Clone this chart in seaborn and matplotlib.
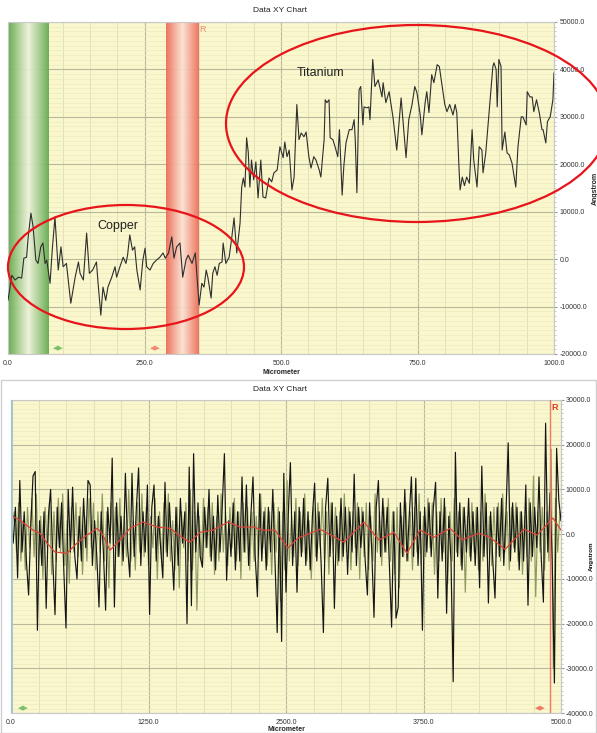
import numpy as np
import pandas as pd
import matplotlib
matplotlib.use("Agg")
import matplotlib.pyplot as plt
import seaborn as sns
from matplotlib.patches import Ellipse, Rectangle
from matplotlib.colors import LinearSegmentedColormap
from matplotlib.ticker import MultipleLocator, FuncFormatter

sns.set_style("white")
plt.rcParams['font.family'] = ['Liberation Sans', 'DejaVu Sans']

# ---------------- data ----------------
# top chart: surface profile (Micrometer vs Angstrom)
top_x = [0, 7, 13, 19, 25, 29, 34, 37, 42, 46, 51, 55, 60, 64, 68, 71, 77, 81, 86, 92,
         97, 101, 107, 115, 123, 129, 132, 138, 144, 149, 155, 162, 165, 170, 174, 179, 183, 190, 196, 199,
         205, 211, 216, 219, 223, 228, 232, 236, 242, 247, 251, 254, 260, 266, 272, 278, 284, 288, 294, 300,
         304, 309, 315, 320, 326, 330, 337, 343, 350, 355, 359, 363, 366, 372, 375, 379, 383, 387, 392, 394,
         399, 405, 410, 414, 419, 425, 428, 431, 434, 437, 440, 443, 446, 450, 454, 458, 463, 467, 472, 478,
         483, 487, 493, 498, 504, 507, 511, 515, 520, 524, 529, 533, 537, 542, 546, 551, 555, 560, 564, 570,
         573, 579, 581, 584, 588, 590, 595, 599, 604, 607, 612, 615, 619, 625, 630, 634, 636, 639, 643, 646,
         650, 652, 657, 661, 663, 668, 672, 678, 685, 687, 692, 698, 705, 712, 720, 729, 734, 740, 745, 749,
         755, 758, 764, 767, 771, 776, 780, 786, 790, 797, 800, 804, 809, 815, 819, 822, 826, 828, 832, 836,
         840, 845, 850, 853, 859, 863, 868, 870, 875, 879, 885, 888, 890, 894, 896, 899, 903, 905, 910, 914,
         918, 923, 927, 930, 934, 940, 943, 949, 951, 956, 960, 963, 968, 973, 978, 980, 985, 988, 993, 998,
         1000]
top_y = [-8700, -3400, -4400, -3800, -4000, 200, 400, 4700, 9700, 6800, -200, -900, 2600, 3400, -900, -200, -5100, 1900, 8900, -2300,
         2600, -1600, -900, -9300, -3800, -600, -3000, -4400, 5500, -3000, -2300, -600, -5100, -11800, -5900, -8700, -5900, -3800, -1600, -3800,
         -1600, 400, -900, 850, 5100, 1900, 2600, -2300, -6500, -200, 2300, -1600, -2300, -900, -200, 400, 1300, 200, 1300, 4700,
         200, 2600, 3400, -3800, -200, 850, -900, 1300, -9700, -5100, -5900, -2300, -3800, -8200, -3000, -1600, -3400, -900, -600, 3400,
         -900, 400, 4700, 8700, 1300, 7600, 15200, 17100, 15200, 25600, 22600, 15200, 20900, 16700, 20500, 12900, 20900, 13100, 12900, 17100,
         16300, 18200, 18800, 23700, 21400, 24700, 21600, 23000, 14600, 17300, 32600, 25200, 26600, 25800, 26800, 21600, 19200, 21600, 20900, 18800,
         17300, 25200, 33600, 33000, 33600, 25600, 25200, 23700, 21600, 27300, 13500, 19500, 24500, 27300, 27300, 29400, 25200, 14000, 35700, 36400,
         28300, 32100, 31900, 32100, 29400, 42100, 36400, 37800, 34200, 37200, 33000, 35300, 30000, 23000, 34000, 21400, 29400, 32600, 36400, 35100,
         30400, 26200, 33000, 35300, 30900, 38900, 37200, 41000, 40600, 35100, 32600, 31100, 32600, 30400, 32600, 30900, 19200, 14600, 17300, 15500,
         17300, 16000, 27300, 20900, 15200, 23700, 23000, 18200, 22400, 27900, 36400, 40600, 41400, 40000, 32100, 42100, 40600, 23000, 26800, 22400,
         22000, 20300, 17300, 15200, 23700, 30000, 30000, 28300, 35300, 34200, 34200, 31100, 33600, 30900, 27300, 27300, 24500, 29000, 30000, 33600,
         39300]

# bottom chart: two noisy profiles (thousands of Angstrom), sampled every 20 um
bot_step = 20
bot_black_k = [
    3, -2, 6, -9.8, 12, -4, 5, -6, -13.6, 2,
    13, 14, -21.5, 3, -7, 5, -16.6, 4, 10, -6,
    -18, 6, -3, 7, -8, -21, 10, -4, 10.5, -5,
    -10, 4, -6, 8, -3, 12, 11, -7, 3, -5,
    -16.3, 5, -4, -17, 6, -2, 17, -16.3, 7, -5,
    4, -6, 13.6, -3, -9.6, 13.6, -5, 6, 14.8, -7,
    5, -4, 11, -18, 6, 11, -6, 4, -3, -9.8,
    11.6, -5, 7, -3, -12.5, 6, -7, 8, -2, 5,
    -20, 15, -16, 18, -4, 7, -5, -7.4, 6, -3,
    10, -6, 4, -8, 8.7, -4, 6, 18, -10.3, 3,
    -5, 7, -8, 5, -6, 12.8, -4, 11, -7, 4,
    12.8, -5, -14, 9, -6, 5, -8, 6, -4, 10,
    -6, -22, 5, -24, 13.6, -13, 4, 16, -7, 5,
    -13, 6, -5, 8, -7, 5, -8, 4, 11.4, -6,
    5, -7, -22, 6, 12.5, -5, 7, -16.6, 4, -6,
    8, -5, 6, -9, 5, -4, 13.4, -7, 6, -3,
    5, -6, -13.6, 7, -4, -18.6, 6, 12, -5, 8,
    -4, 6, -7, -20.8, 5, -18.8, -16.3, 7, -5, 10,
    -6, 4, 12.8, -5, 12.5, -7, 5, -21.5, 6, -4,
    7, -5, 6, 11.6, -14.3, 5, -6, 8, -17.7, 4,
    -6, -33, 18.3, -5, 7, -8, 6, -4, 8, -6,
    5, -7, 6, -12, 15.2, -5, 7, -15.4, 5, -6,
    -14.3, 6, -5, 8, -7, 5, 20.4, -6, 7, -4,
    6, -8, 5, -6, 11, -15.9, 7, -5, 6, -3,
    12.8, -5, -15.2, 24.8, -4, 9.2, -6, -33.3, 19.2, 7.6,
    3]
bot_olive_k = [
    2, 5, -4, 7, -6, 3, -8, 6, -3, 8,
    -5, 9, -7, 4, -10, 6, -3, 7, -9, 5,
    -6, 8, -4, 9, -7, 3, -11, 6, -4, 7,
    -5, 6, -9, 4, -6, 8, -3, 7, -8, 5,
    -4, 9, -6, 5, -12, 7, -3, 6, -5, 8,
    -7, 4, -5, 10, -6, 3, -8, 7, -4, 9,
    -5, 6, -7, 4, -3, 8, -10, 5, -6, 7,
    -4, 9, -6, 3, -8, 6, -12, 5, -3, 7,
    -6, 10, -8, 5, -17, 4, -6, 8, -3, 6,
    -5, 7, -9, 4, -6, 9, -4, 5, -7, 6,
    -3, 8, -6, 5, -10, 7, -4, 6, -8, 5,
    -6, 4, -5, 9, -3, 6, -7, 5, -9, 7,
    -4, 6, -15, 5, -8, 12, -6, 4, -5, 8,
    -7, 5, -4, 9, -6, 3, -10, 6, -5, 7,
    -3, 8, -6, 5, -9, 7, -4, 6, -7, 5,
    -6, 9, -4, 6, -8, 5, -3, 7, -10, 6,
    -5, 7, -8, 4, -6, 9, -4, 5, -7, 6,
    -4, 8, -6, 5, -9, 6, -12, 4, -5, 7,
    -6, 5, -8, 6, -4, 9, -7, 4, -5, 8,
    -3, 7, -9, 5, -6, 8, -4, 6, -11, 5,
    -6, 8, -4, 5, -7, 6, -13, 4, -5, 7,
    -4, 6, -8, 5, -6, 9, -5, 4, -7, 6,
    -5, 7, -6, 9, -4, 5, -8, 6, -3, 7,
    -6, 5, -9, 4, -5, 8, -6, 13, -14, 5,
    -4, 6, -8, 5, -6, 19, -30, 8, -4, 5,
    2]
# bottom chart: smoothed (moving average) curve
ma_x = [0, 82, 200, 264, 327, 400, 509, 600, 691, 782, 827, 900, 991, 1082, 1200, 1327, 1445, 1555,
        1627, 1718, 1836, 1973, 2082, 2200, 2291, 2400, 2518, 2609, 2809, 3027, 3209, 3345, 3482,
        3600, 3718, 3845, 3991, 4100, 4255, 4355, 4491, 4664, 4782, 4927, 5000]
ma_y = [4200, 3100, 900, 200, -2000, -4000, -4300, -2000, -200, 1300, 200, -3600, -1300, 1300, 2700, 1600,
        1300, -700, -1800, 400, 900, 2700, 1600, 1600, 900, 900, -3100, -900, 1100, -1800, 2700, -1300,
        400, -4300, 900, -700, 1300, -1300, 200, -700, -3400, 1100, -200, 3600, 900]

# region markers
green_band = (0, 74)
red_band = (289, 348)
bottom_cursor = 4900

# ---------------- figure ----------------
W, H = 597, 733
fig = plt.figure(figsize=(W / 100, H / 100), dpi=100)
fig.patch.set_facecolor('white')

ax1 = fig.add_axes([8 / W, 1 - 354 / H, 546 / W, 332 / H])
ax2 = fig.add_axes([11 / W, 1 - 713 / H, 550 / W, 313 / H])

fmt = FuncFormatter(lambda v, p: f"{v:.1f}")


def style(ax, xmax, ymin, ymax, xmajor, xminor):
    ax.set_facecolor('#F9F7CB')
    ax.set_xlim(0, xmax)
    ax.set_ylim(ymin, ymax)
    ax.xaxis.set_major_locator(MultipleLocator(xmajor))
    ax.xaxis.set_minor_locator(MultipleLocator(xminor))
    ax.yaxis.set_major_locator(MultipleLocator(10000))
    ax.yaxis.set_minor_locator(MultipleLocator(1000))
    ax.grid(which='major', color='#B9B89C', lw=0.8)
    ax.grid(which='minor', axis='x', color='#DEDCB2', lw=0.6)
    ax.grid(which='minor', axis='y', color='#EDEBC2', lw=0.5)
    ax.set_axisbelow(True)
    ax.yaxis.tick_right()
    ax.yaxis.set_label_position('right')
    ax.xaxis.set_major_formatter(fmt)
    ax.yaxis.set_major_formatter(fmt)
    ax.tick_params(which='major', labelsize=5, length=2, color='#999999', pad=2, labelcolor='#333333')
    ax.tick_params(which='minor', length=1.3, color='#BBBBBB')
    for s in ax.spines.values():
        s.set_color('#C8C8C8')
        s.set_linewidth(0.8)


style(ax1, 1000, -20000, 50000, 250, 50)
style(ax2, 5000, -40000, 30000, 1250, 250)

# gradient bands (drawn above the grid, slightly translucent)
grad = np.linspace(0, 1, 256).reshape(1, -1)
gcm = LinearSegmentedColormap.from_list('g', ['#5EA64C', '#A9CF93', '#EEF1DC', '#A9CF93', '#62AA50'])
rcm = LinearSegmentedColormap.from_list('r', ['#EC6A58', '#F4A896', '#FBE2D4', '#F4A896', '#EC6C5A'])
ax1.imshow(grad, cmap=gcm, aspect='auto', alpha=0.94,
           extent=[green_band[0], green_band[1], -20000, 50000], zorder=0.8)
ax1.imshow(grad, cmap=rcm, aspect='auto', alpha=0.94,
           extent=[red_band[0], red_band[1], -20000, 50000], zorder=0.8)
ax1.set_xlim(0, 1000)
ax1.set_ylim(-20000, 50000)

# top profile
df_top = pd.DataFrame({'x': top_x, 'y': top_y})
sns.lineplot(data=df_top, x='x', y='y', ax=ax1, color='#2E2E2E', lw=0.8, estimator=None, sort=False, zorder=3)
ax1.set_xlabel('Micrometer', fontsize=5, fontweight='bold', labelpad=2)
ax1.set_ylabel('Angstrom', fontsize=5, fontweight='bold', labelpad=3)

# bottom profiles
black = np.array(bot_black_k) * 1000
olive = np.array(bot_olive_k) * 1000
df_b = pd.DataFrame({'x': np.arange(len(black)) * bot_step, 'y': black})
df_o = pd.DataFrame({'x': np.arange(len(olive)) * bot_step + bot_step / 2, 'y': olive})
df_m = pd.DataFrame({'x': ma_x, 'y': ma_y})
sns.lineplot(data=df_o, x='x', y='y', ax=ax2, color='#8F9962', lw=0.85, estimator=None, sort=False, zorder=2)
sns.lineplot(data=df_b, x='x', y='y', ax=ax2, color='#151515', lw=0.85, estimator=None, sort=False, zorder=3)
sns.lineplot(data=df_m, x='x', y='y', ax=ax2, color='#D8453A', lw=0.9, estimator=None, sort=False, zorder=4)
ax2.axvline(bottom_cursor, color='#EE7A66', lw=1.0, zorder=5)
ax2.axvline(0, color='#9CC3D2', lw=2.0, zorder=5)
ax2.set_xlim(0, 5000)
ax2.set_ylim(-40000, 30000)
ax2.tick_params(axis='y', which='major', pad=1.5)
ax2.set_xlabel('Micrometer', fontsize=5, fontweight='bold', labelpad=0.5)
ax2.set_ylabel('')
fig.text(591.5 / W, 1 - 556 / H, 'Angstrom', fontsize=4.5, fontweight='bold', rotation=90,
         ha='center', va='center', color='#111111')

# titles
fig.text(280 / W, 1 - 10 / H, 'Data XY Chart', fontsize=6, ha='center', va='center', color='#222222')
fig.text(280 / W, 1 - 389 / H, 'Data XY Chart', fontsize=6, ha='center', va='center', color='#222222')

# R markers and double arrows
fig.text(203 / W, 1 - 29 / H, 'R', fontsize=6.5, ha='center', va='center', color='#F08A78')
fig.text(555 / W, 1 - 407 / H, 'R', fontsize=6.5, ha='center', va='center', color='#E03A26', fontweight='bold')
for (px, py, c) in [(58, 348, '#7DC06A'), (155, 348, '#F08A78'), (23, 708, '#7DC06A'), (540, 708, '#F07A66')]:
    fig.text(px / W, 1 - py / H, '\u25C0\u25B6', fontsize=5, ha='center', va='center', color=c,
             family=['DejaVu Sans'])

# bottom panel frame
fig.patches.append(Rectangle((1 / W, 0.5 / H), 595 / W, (733 - 380) / H, transform=fig.transFigure,
                             facecolor='none', edgecolor='#CFCFCF', lw=1.0))

# hand-drawn annotations
fig.patches.append(Ellipse((126 / W, 1 - 267 / H), 236 / W, 124 / H, transform=fig.transFigure,
                           facecolor='none', edgecolor='#E8141A', lw=1.6, zorder=10))
fig.patches.append(Ellipse((417 / W, 1 - 123.5 / H), 382 / W, 197 / H, transform=fig.transFigure,
                           facecolor='none', edgecolor='#E8141A', lw=1.6, zorder=10))
fig.text(118 / W, 1 - 226 / H, 'Copper', fontsize=9, ha='center', va='center', color='#222222')
fig.text(321 / W, 1 - 73 / H, 'Titanium', fontsize=9, ha='center', va='center', color='#222222')

fig.savefig('out.png', dpi=100)
